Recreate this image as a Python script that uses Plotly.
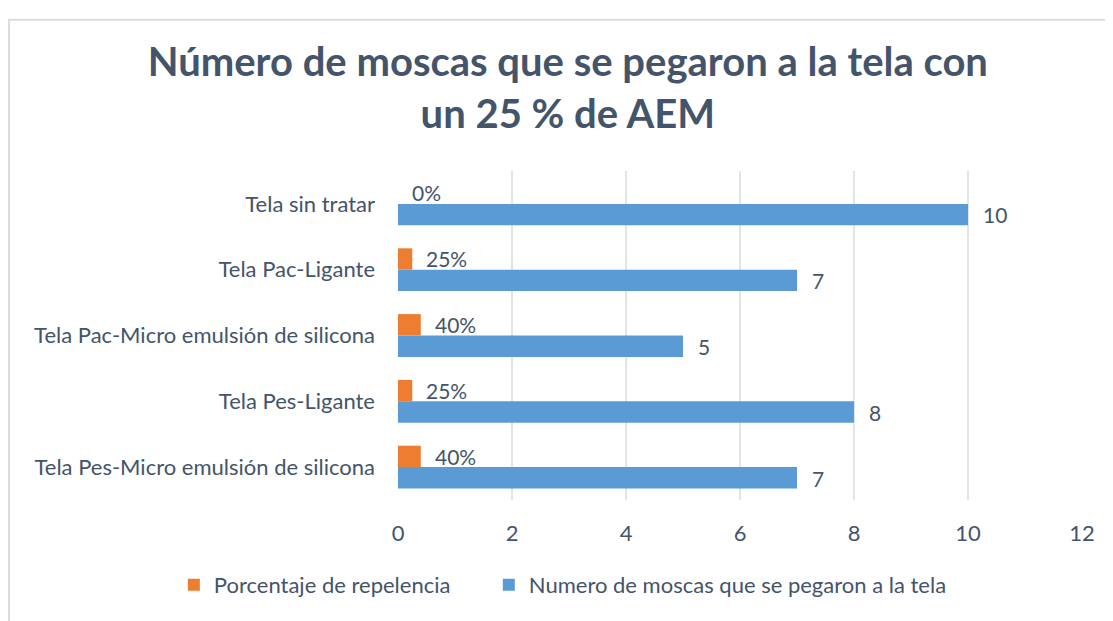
import plotly.graph_objects as go

categorias = [
    "Tela sin tratar",
    "Tela Pac-Ligante",
    "Tela Pac-Micro emulsión de silicona",
    "Tela Pes-Ligante",
    "Tela Pes-Micro emulsión de silicona",
]
moscas = [10, 7, 5, 8, 7]
repelencia = [0, 0.25, 0.40, 0.25, 0.40]
etiquetas_rep = ["0%", "25%", "40%", "25%", "40%"]
x_ticks = [0, 2, 4, 6, 8, 10, 12]

text_color = "#44546A"
font_family = "Lato, 'Open Sans', sans-serif"

fig = go.Figure()
fig.add_trace(go.Bar(
    y=categorias, x=moscas, orientation="h",
    name="Numero de moscas que se pegaron a la tela",
    marker=dict(color="#5B9BD5", line=dict(width=0)),
    legend="legend2",
))
fig.add_trace(go.Bar(
    y=categorias, x=repelencia, orientation="h",
    name="Porcentaje de repelencia",
    marker=dict(color="#ED7D31", line=dict(width=0)),
    legend="legend",
))

# value labels, placed from the data with a small pixel shift
for i, cat in enumerate(categorias):
    fig.add_annotation(x=moscas[i], y=cat, text=str(moscas[i]), showarrow=False,
                       xanchor="left", xshift=13, yshift=-11,
                       font=dict(size=21, color=text_color, family=font_family))
    fig.add_annotation(x=repelencia[i], y=cat, text=etiquetas_rep[i], showarrow=False,
                       xanchor="left", xshift=12, yshift=11,
                       font=dict(size=21, color=text_color, family=font_family))

# chart frame
fig.add_shape(type="rect", xref="paper", yref="paper",
              x0=-0.5687, x1=1.08, y0=-0.6, y1=1.46,
              line=dict(color="#D9DDE3", width=2), layer="below")

legend_style = dict(orientation="h", xref="container", yref="container",
                    xanchor="left", y=0.071, yanchor="middle",
                    font=dict(size=22, color=text_color), itemwidth=30)

fig.update_layout(
    width=1113, height=621,
    margin=dict(l=390, r=39, t=163, b=129),
    paper_bgcolor="white", plot_bgcolor="white",
    barmode="group", bargap=0.35, bargroupgap=0,
    font=dict(family=font_family, color=text_color, size=22),
    title=dict(
        text="Número de moscas que se pegaron a la tela con<br>un 25 % de AEM",
        x=0.503, xanchor="center", y=0.89, yanchor="top",
        font=dict(size=40, color=text_color, family=font_family, weight="bold"),
    ),
    legend=dict(x=0.149, **legend_style),
    legend2=dict(x=0.432, **legend_style),
    showlegend=True,
)
fig.update_xaxes(range=[0, 12], tickvals=x_ticks, showgrid=True, gridcolor="#E1E4E8",
                 gridwidth=2, zeroline=False, showline=False, ticks="",
                 ticklabelstandoff=18, tickfont=dict(size=22, color=text_color))
fig.update_yaxes(categoryorder="array", categoryarray=categorias[::-1],
                 showgrid=False, zeroline=False, showline=False, ticks="",
                 ticklabelstandoff=22, tickfont=dict(size=22, color=text_color))

fig.write_html("out.html")
